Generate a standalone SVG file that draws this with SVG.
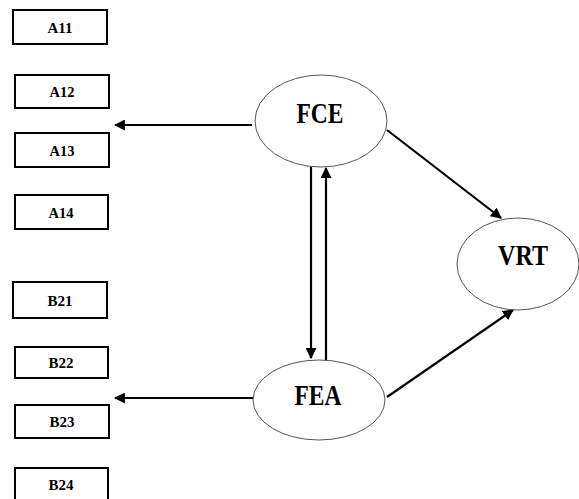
<svg xmlns="http://www.w3.org/2000/svg" width="579" height="499" viewBox="0 0 579 499">
<style>
.box{fill:#fff;stroke:#000;stroke-width:2}
.ell{fill:#fff;stroke:#555;stroke-width:1}
.bt{font-family:"Liberation Serif",serif;font-weight:bold;font-size:15px;text-anchor:middle}
.et{font-family:"Liberation Serif",serif;font-weight:bold;font-size:29px;text-anchor:middle}
.c{stroke:#000;stroke-width:2.2;fill:none;marker-end:url(#ah)}
</style>
<defs>
<marker id="ah" viewBox="0 0 10 10" refX="9" refY="5" markerWidth="5" markerHeight="5" orient="auto" markerUnits="strokeWidth">
<path d="M0,0 L10,5 L0,10 z" fill="#000"/>
</marker>
</defs>
<rect width="579" height="499" fill="#fff"/>
<g id="connectors">
<line class="c" x1="252" y1="125" x2="115" y2="125"/>
<line class="c" x1="253" y1="398" x2="115" y2="398"/>
<line class="c" x1="387" y1="130" x2="501" y2="218"/>
<line class="c" x1="387" y1="397" x2="513" y2="310"/>
<line class="c" x1="311" y1="167" x2="311" y2="358"/>
<line class="c" x1="326" y1="360" x2="326" y2="168"/>
</g>
<g id="A11"><rect class="box" x="13" y="10" width="94" height="34"/><text class="bt" x="60" y="33" textLength="25" lengthAdjust="spacingAndGlyphs">A11</text></g>
<g id="A12"><rect class="box" x="15" y="75" width="94" height="33"/><text class="bt" x="62" y="97" textLength="25" lengthAdjust="spacingAndGlyphs">A12</text></g>
<g id="A13"><rect class="box" x="15" y="133" width="94" height="34"/><text class="bt" x="62" y="156" textLength="25" lengthAdjust="spacingAndGlyphs">A13</text></g>
<g id="A14"><rect class="box" x="15" y="195" width="93" height="34"/><text class="bt" x="61" y="218" textLength="25" lengthAdjust="spacingAndGlyphs">A14</text></g>
<g id="B21"><rect class="box" x="13" y="282" width="94" height="36"/><text class="bt" x="60" y="306" textLength="25" lengthAdjust="spacingAndGlyphs">B21</text></g>
<g id="B22"><rect class="box" x="15" y="347" width="93" height="31"/><text class="bt" x="61" y="368" textLength="25" lengthAdjust="spacingAndGlyphs">B22</text></g>
<g id="B23"><rect class="box" x="15" y="405" width="94" height="33"/><text class="bt" x="62" y="427" textLength="25" lengthAdjust="spacingAndGlyphs">B23</text></g>
<g id="B24"><rect class="box" x="15" y="468" width="93" height="34"/><text class="bt" x="61" y="490" textLength="25" lengthAdjust="spacingAndGlyphs">B24</text></g>
<g id="FCE"><ellipse class="ell" cx="321" cy="121" rx="66" ry="46"/><text class="et" x="320" y="123" textLength="47" lengthAdjust="spacingAndGlyphs">FCE</text></g>
<g id="FEA"><ellipse class="ell" cx="319" cy="400" rx="66" ry="40"/><text class="et" x="318" y="405" textLength="47" lengthAdjust="spacingAndGlyphs">FEA</text></g>
<g id="VRT"><ellipse class="ell" cx="518" cy="264" rx="61" ry="46"/><text class="et" x="523" y="265" textLength="50" lengthAdjust="spacingAndGlyphs">VRT</text></g>
</svg>
